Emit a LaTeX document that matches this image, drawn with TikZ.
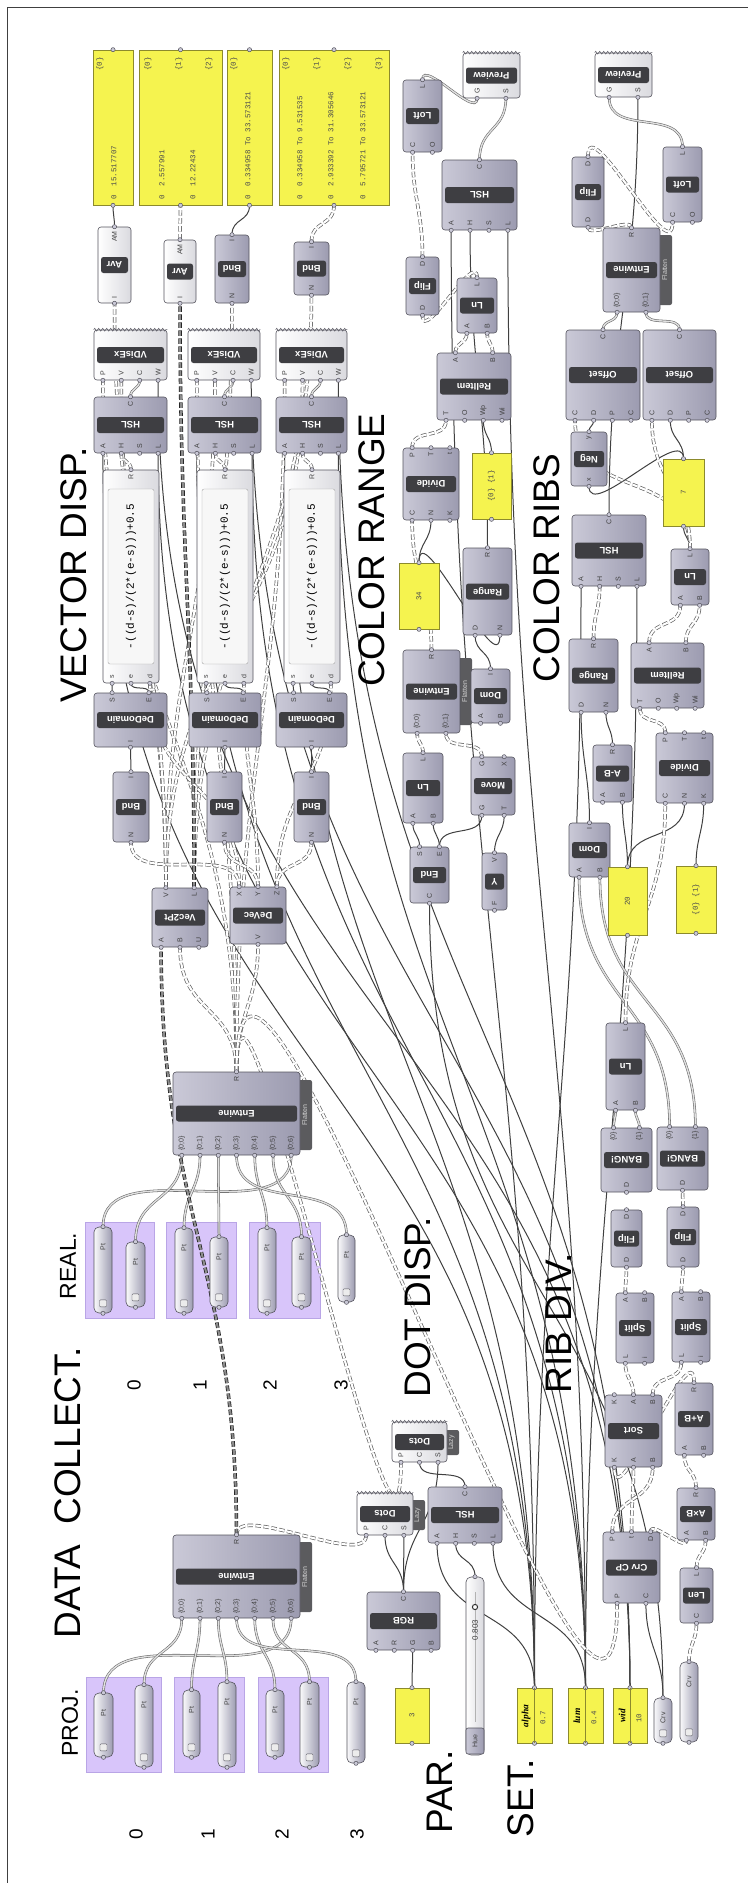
\documentclass[tikz,border=0pt]{standalone}
\usepackage{fontspec}
\setmainfont{Liberation Sans}
\setmonofont{Liberation Mono}
\newfontfamily\ghserif{Liberation Serif}
\usetikzlibrary{arrows.meta,positioning,calc,backgrounds,decorations.pathmorphing}
\definecolor{GhTop}{HTML}{CAC9D7}
\definecolor{GhBot}{HTML}{9C9BB0}
\definecolor{GhEdge}{HTML}{55545E}
\definecolor{GhDark}{HTML}{3E3E42}
\definecolor{GhPale}{HTML}{DADADF}
\definecolor{GhYellow}{HTML}{F5F34F}
\definecolor{GhYEdge}{HTML}{8C8A2C}
\definecolor{GhGroup}{HTML}{D8C5FA}
\definecolor{GhGEdge}{HTML}{B9A5E6}

% ports on one side of a component
\newcommand{\ghports}[6]{%
  \gdef\ghn{0}%
  \foreach \q in {#3}{\xdef\ghn{\the\numexpr\ghn+1\relax}}%
  \foreach \q [count=\k] in {#3}{%
    \coordinate (#1-#4\k) at ($(#1.#2 west)!{(2*\k-1)/(2*\ghn)}!(#1.#2 east)$);
    \node[ghlet,anchor=#6] at ($(#1-#4\k)+(0,#5)$) {\q};
    \filldraw[ghport] (#1-#4\k) circle (2.1pt);}}
% component: [style]{name}{left}{top}{width}{height}{title}{inputs}{outputs}
\newcommand{\ghc}[9][ghbody]{%
  \node[#1,minimum width=#5pt,minimum height=#6pt] (#2) at (#3+#5/2,#4+#6/2) {};
  \def\ghtmp{#7}\ifx\ghtmp\empty\else
    \node[ghtitle,minimum width=#5pt-6pt] at (#2.center) {#7};\fi
  \ghports{#2}{south}{#8}{i}{-4}{west}%
  \def\ghtmp{#9}\ifx\ghtmp\empty\else\ghports{#2}{north}{#9}{o}{4}{east}\fi}
% yellow panel
\newcommand{\ghpanel}[5]{%
  \node[ghyel,minimum width=#4pt,minimum height=#5pt] (#1) at (#2+#4/2,#3+#5/2) {};
  \coordinate (#1-i1) at (#1.south); \coordinate (#1-o1) at (#1.north);
  \filldraw[ghport] (#1-i1) circle (2.1pt) (#1-o1) circle (2.1pt);}
% parameter capsule
\newcommand{\ghpt}[6]{%
  \node[ghparam,minimum width=#4pt,minimum height=#5pt] (#1) at (#2+#4/2,#3+#5/2) {};
  \node[ghlet] at ($(#1.north)+(0,20)$) {#6};
  \node[ghicon] at ($(#1.south)+(0,-10)$) {};
  \coordinate (#1-i1) at (#1.south); \coordinate (#1-o1) at (#1.north);
  \filldraw[ghport] (#1-i1) circle (2.1pt) (#1-o1) circle (2.1pt);}
% dark side tab
\newcommand{\ghtab}[4]{%
  \fill[GhDark!85,rounded corners=2pt] (#1-6,#2) rectangle (#1+12,#3);
  \node[rotate=90,font=\fontsize{7}{7}\selectfont,text=white!65!gray] at (#1+4.5,{(#2+#3)/2}) {#4};}
% wire from an output up to an input
\newcommand{\ghwire}[3]{%
  \draw[#1] let \p1=(#2),\p2=(#3),\n1={max(6pt,0.42*abs(\y2-\y1)+0.25*abs(\x2-\x1))} in
    (\p1) .. controls +(0pt,\n1) and +(0pt,-\n1) .. (\p2);}

\begin{document}
\begin{tikzpicture}[x=1pt,y=-1pt,
  ghbody/.style={draw=GhEdge,line width=0.6pt,rounded corners=3pt,left color=GhTop,right color=GhBot,inner sep=0pt},
  ghpale/.style={ghbody,left color=white,right color=GhPale},
  ghparam/.style={ghbody,rounded corners=5pt,left color=white!90!GhTop,right color=GhBot},
  ghtitle/.style={fill=GhDark,rounded corners=2.5pt,text=white,font=\bfseries\fontsize{9.5}{10}\selectfont,rotate=180,minimum height=16pt,inner sep=1pt},
  ghlet/.style={rotate=90,font=\fontsize{7}{7}\selectfont,text=black!75,inner sep=0.5pt},
  ghport/.style={fill=GhTop,draw=GhEdge,line width=0.5pt},
  ghicon/.style={draw=GhEdge,fill=white!85!gray,minimum size=7pt,inner sep=0pt,rounded corners=1pt},
  ghyel/.style={draw=GhYEdge,fill=GhYellow,line width=0.6pt,inner sep=0pt},
  ghgroup/.style={fill=GhGroup,draw=GhGEdge,line width=0.6pt},
  ptxt/.style={rotate=90,font=\ttfamily\fontsize{7.5}{8}\selectfont,text=black!70,inner sep=0pt},
  exprbox/.style={draw=black!35,fill=white!94!gray,rounded corners=2pt,rotate=90,minimum width=175pt,minimum height=46pt,font=\ttfamily\fontsize{11}{11}\selectfont,inner sep=1pt},
  zig/.style={draw=GhEdge,line width=0.5pt,decorate,decoration={zigzag,segment length=4pt,amplitude=1.4pt}},
  sect/.style={rotate=90,font=\fontsize{37}{37}\selectfont,inner sep=0pt},
  subsect/.style={rotate=90,font=\fontsize{23}{23}\selectfont,inner sep=0pt},
  digit/.style={rotate=90,font=\fontsize{19}{19}\selectfont,inner sep=0pt},
  one/.style={draw=black!75,line width=1pt},
  lst/.style={draw=black!60,line width=0.55pt,double=black!12,double distance=1.4pt},
  tree/.style={draw=black!62,line width=0.7pt,double=white,double distance=2.1pt,dash pattern=on 5.5pt off 2.5pt},
  dtree/.style={tree,draw=black!90,double=black!45}]
\useasboundingbox (0,0) rectangle (748,1883);
\draw[black!75,line width=0.7pt] (7,1883) -- (7,7) -- (748,7);

% section titles
\node[sect] (tVec) at (74,575) {VECTOR DISP.};
\node[sect] (tRange) at (372,550) {COLOR RANGE};
\node[sect] (tRibs) at (547,568) {COLOR RIBS};
\node[sect] (tData) at (68,1493) {DATA\ \ COLLECT.};
\node[sect] (tDot) at (418,1307) {DOT DISP.};
\node[sect] (tRib) at (559,1323) {RIB DIV.};
\node[sect] (tPar) at (440,1792) {PAR.};
\node[sect] (tSet) at (521,1798) {SET.};
\node[subsect] (tReal) at (68,1266) {REAL.};
\node[subsect] (tProj) at (70,1723) {PROJ.};
\foreach \d/\xx in {0/134,1/200,2/270,3/341} {\node[digit] (dR\d) at (\xx,1385) {\d};}
\foreach \d/\xx in {0/136,1/208,2/282,3/357} {\node[digit] (dP\d) at (\xx,1834) {\d};}

% read-out panels
\ghpanel{PA}{93}{50}{40}{155}
\ghpanel{PB}{139}{50}{83}{155}
\ghpanel{PC}{227}{50}{45}{155}
\ghpanel{PD}{279}{50}{110}{155}
\foreach \xx/\br in {100/0,148/0,179/1,209/2,234/0,286/0,317/1,348/2,379/3} {\node[ptxt,anchor=east] at (\xx,57) {\{\br\}};}
\node[ptxt,anchor=west] at (114,200) {0\ \ 15.517707};
\node[ptxt,anchor=west] at (162,200) {0\ \ 2.557991};
\node[ptxt,anchor=west] at (193,200) {0\ \ 12.22434};
\node[ptxt,anchor=west] at (248,200) {0\ \ 0.334958 To 33.573121};
\node[ptxt,anchor=west] at (300,200) {0\ \ 0.334958 To 9.531535};
\node[ptxt,anchor=west] at (331,200) {0\ \ 2.933392 To 31.305646};
\node[ptxt,anchor=west] at (363,200) {0\ \ 5.795721 To 33.573121};

% vector display
\ghc[ghpale]{AvrA}{98}{227}{33}{76}{Avr}{I}{AM}
\ghc[ghpale]{AvrB}{164}{240}{32}{63}{Avr}{I}{AM}
\ghc{BndA}{215}{235}{34}{68}{Bnd}{N}{I}
\ghc{BndB}{294}{242}{35}{53}{Bnd}{N}{I}
\ghc[ghpale]{VDa}{94}{330}{73}{50}{VDisEx}{P,V,C,W}{}
\ghc[ghpale]{VDb}{188}{330}{72}{50}{VDisEx}{P,V,C,W}{}
\ghc[ghpale]{VDc}{276}{330}{71}{50}{VDisEx}{P,V,C,W}{}
\ghc{HSLa}{94}{397}{73}{56}{HSL}{A,H,S,L}{C}
\ghc{HSLb}{188}{397}{73}{56}{HSL}{A,H,S,L}{C}
\ghc{HSLc}{276}{397}{71}{56}{HSL}{A,H,S,L}{C}
\ghc[ghpale]{ExA}{103}{470}{56}{213}{}{s,e,d}{R}
\ghc[ghpale]{ExB}{197}{470}{56}{213}{}{s,e,d}{R}
\ghc[ghpale]{ExC}{284}{470}{56}{213}{}{s,e,d}{R}
\foreach \cn in {ExA,ExB,ExC} {\node[exprbox] at (\cn.center) {-((d-s)/(2*(e-s)))+0.5};}
\ghc{DDa}{94}{693}{73}{54}{DeDomain}{I}{S,E}
\ghc{DDb}{189}{693}{72}{54}{DeDomain}{I}{S,E}
\ghc{DDc}{276}{693}{71}{54}{DeDomain}{I}{S,E}
\ghc{BnA}{113}{772}{36}{70}{Bnd}{N}{I}
\ghc{BnB}{207}{772}{35}{70}{Bnd}{N}{I}
\ghc{BnC}{294}{772}{35}{70}{Bnd}{N}{I}
\ghc{VecPt}{152}{888}{56}{59}{Vec2Pt}{A,B,U}{V,L}
\ghc{DeVec}{230}{887}{56}{57}{DeVec}{V}{X,Y,Z}
\ghtab{300}{1080}{1150}{Flatten}
\ghc{EntUp}{173}{1072}{127}{83}{Entwine}{\{0;0\},\{0;1\},\{0;2\},\{0;3\},\{0;4\},\{0;5\},\{0;6\}}{R}
\ghtab{300}{1542}{1612}{Flatten}
\ghc{EntLo}{173}{1535}{127}{83}{Entwine}{\{0;0\},\{0;1\},\{0;2\},\{0;3\},\{0;4\},\{0;5\},\{0;6\}}{R}

% points
\ghpt{Ra}{94}{1227}{18}{86}{Pt}
\ghpt{Rb}{126}{1242}{19}{65}{Pt}
\ghpt{Rc}{175}{1228}{18}{85}{Pt}
\ghpt{Rd}{210}{1237}{18}{70}{Pt}
\ghpt{Re}{258}{1228}{18}{85}{Pt}
\ghpt{Rf}{292}{1237}{19}{70}{Pt}
\ghpt{Rg}{338}{1235}{17}{67}{Pt}
\ghpt{Qa}{94}{1693}{19}{64}{Pt}
\ghpt{Qb}{135}{1685}{18}{82}{Pt}
\ghpt{Qc}{183}{1690}{17}{67}{Pt}
\ghpt{Qd}{218}{1682}{18}{85}{Pt}
\ghpt{Qe}{266}{1690}{18}{67}{Pt}
\ghpt{Qf}{300}{1682}{19}{85}{Pt}
\ghpt{Qg}{347}{1682}{18}{81}{Pt}

% color range
\ghc[ghpale]{PrevL}{463}{53}{57}{45}{Preview}{G,S}{}
\ghc{LoftL}{403}{80}{39}{72}{Loft}{C,O}{L}
\ghc{HSLcr}{442}{160}{75}{70}{HSL}{A,H,S,L}{C}
\ghc{FlipL}{406}{257}{33}{58}{Flip}{D}{D}
\ghc{LnCRa}{457}{278}{40}{55}{Ln}{A,B}{L}
\ghc{RelCR}{437}{353}{74}{67}{RelItem}{T,O,Wp,Wi}{A,B}
\ghc{DivCR}{403}{448}{56}{72}{Divide}{C,N,K}{P,T,t}
\ghpanel{PanCRa}{472}{453}{39}{66}
\ghpanel{PanCRb}{399}{563}{40}{66}
\ghc{RngCR}{463}{548}{49}{87}{Range}{D,N}{R}
\ghtab{460}{658}{725}{Flatten}
\ghc{EntCR}{403}{650}{57}{83}{Entwine}{\{0;0\},\{0;1\}}{R}
\ghc{DomCR}{471}{669}{39}{54}{Dom}{A,B}{I}
\ghc{LnCRb}{403}{753}{40}{70}{Ln}{A,B}{L}
\ghc{Move}{471}{757}{44}{58}{Move}{G,T}{G,X}
\ghc{End}{410}{847}{39}{56}{End}{C}{S,E}
\ghc{UnitY}{482}{853}{25}{57}{Y}{F}{V}

% color ribs
\ghc[ghpale]{PrevR}{595}{53}{57}{44}{Preview}{G,S}{}
\ghc{LoftR}{663}{147}{39}{75}{Loft}{C,O}{L}
\ghc{FlipR}{572}{157}{32}{70}{Flip}{D}{D}
\ghtab{660}{235}{305}{Flatten}
\ghc{EntRB}{603}{228}{57}{84}{Entwine}{\{0;0\},\{0;1\}}{R}
\ghc{OffL}{566}{330}{74}{90}{Offset}{C,D,P,C}{C}
\ghc{OffR}{643}{330}{73}{90}{Offset}{C,D,P,C}{C}
\ghc{Neg}{571}{432}{36}{54}{Neg}{x}{y}
\ghpanel{PanSeven}{663}{459}{41}{67}
\ghc{HSLrb}{572}{515}{74}{71}{HSL}{A,H,S,L}{C}
\ghc{LnRBa}{671}{549}{38}{56}{Ln}{A,B}{L}
\ghc{RngRB}{569}{639}{49}{73}{Range}{D,N}{R}
\ghc{RelRB}{631}{643}{73}{65}{RelItem}{T,O,Wp,Wi}{A,B}
\ghc{AmB}{593}{745}{39}{57}{A-B}{A,B}{R}
\ghc{DivRB}{656}{733}{57}{70}{Divide}{C,N,K}{P,T,t}
\ghc{DomRB}{569}{823}{41}{54}{Dom}{A,B}{I}
\ghpanel{PanTwenty}{608}{867}{39}{68}
\ghpanel{PanRBb}{676}{866}{40}{67}
\ghc{LnRBb}{606}{1023}{39}{87}{Ln}{A,B}{L}
\ghc{BangL}{601}{1128}{51}{64}{BANG!}{D}{\{0\},\{1\}}
\ghc{BangR}{657}{1127}{51}{63}{BANG!}{D}{\{0\},\{1\}}
\ghc{FlipA}{611}{1210}{31}{57}{Flip}{D}{D}
\ghc{FlipB}{667}{1207}{32}{60}{Flip}{D}{D}
\ghc{SplA}{616}{1293}{38}{70}{Split}{L,i}{A,B}
\ghc{SplB}{672}{1292}{38}{70}{Split}{L,i}{A,B}
\ghc{Sort}{605}{1395}{57}{72}{Sort}{K,A,B}{K,A,B}
\ghc{ApB}{675}{1383}{38}{72}{A+B}{A,B}{R}
\ghc{AxB}{677}{1488}{38}{52}{A×B}{A,B}{R}
\ghc{CrvCP}{603}{1532}{57}{71}{Crv CP}{P,C}{P,t,D}
\ghc{Len}{680}{1568}{33}{55}{Len}{C}{L}

% dot display
\ghtab{447}{1430}{1455}{Lazy}
\ghc[ghpale]{DotsU}{392}{1422}{55}{40}{Dots}{P,C,S}{}
\ghtab{413}{1500}{1530}{Lazy}
\ghc[ghpale]{DotsL}{357}{1493}{56}{42}{Dots}{P,C,S}{}
\ghc{HSLlo}{428}{1487}{74}{56}{HSL}{A,H,S,L}{C}
\ghc{RGB}{367}{1592}{73}{58}{RGB}{A,R,G,B}{C}
\foreach \cn in {VDa,VDb,VDc,PrevL,PrevR,DotsU,DotsL} {\draw[zig] (\cn.north west) -- (\cn.north east);}

% parameters and settings
\ghpanel{three}{395}{1688}{34}{55}
\node[ghparam,left color=white,right color=GhPale,minimum width=18pt,minimum height=178pt] (hue) at (475,1666) {};
\draw[black!30] (475,1592) -- (475,1722);
\node[ghlet,font=\fontsize{8}{8}\selectfont] at (475,1630) {0.803};
\draw[black!80,line width=1pt,fill=white] (475,1607) circle (2.6pt);
\node[ghbody,rounded corners=2pt,minimum width=18pt,minimum height=26pt] (huebox) at (475,1741) {};
\node[ghlet] at (huebox) {Hue};
\coordinate (hue-o1) at (hue.north); \filldraw[ghport] (hue-o1) circle (2.1pt);
\ghpanel{alpha}{517}{1688}{35}{55}
\ghpanel{lum}{568}{1688}{35}{55}
\ghpanel{wid}{613}{1688}{34}{55}
\foreach \cn in {alpha,lum,wid} {\draw[GhYEdge,line width=0.6pt] (\cn.north) -- (\cn.south);}
\foreach \xx/\tx in {526/alpha,577/lum,622/wid} {\node[ptxt,text=black,font=\ghserif\bfseries\itshape\fontsize{9.5}{10}\selectfont] at (\xx,1716) {\tx};}
\foreach \xx/\tx in {543/0.7,594/0.4,639/10} {\node[ptxt] at (\xx,1718) {\tx};}
\ghpt{CrvA}{654}{1698}{18}{45}{Crv}
\ghpt{CrvB}{680}{1662}{18}{80}{Crv}
\foreach \cn/\tx in {three/3,PanCRa/\{0\}\ \{1\},PanCRb/34,PanSeven/7,PanTwenty/20,PanRBb/\{0\}\ \{1\}} {\node[ptxt] at (\cn.center) {\tx};}

\begin{scope}[on background layer]
  \foreach \ga/\gb in {85/154,166/236,249/320} {\draw[ghgroup] (\ga,1222) rectangle (\gb,1318);}
  \foreach \ga/\gb in {86/161,174/244,258/328} {\draw[ghgroup] (\ga,1677) rectangle (\gb,1772);}
  % single items
  \foreach \a/\b in {AvrA-o1/PA-i1,BndA-o1/PC-i1,
    DDa-o1/ExA-i1,DDa-o2/ExA-i2,DDb-o1/ExB-i1,DDb-o2/ExB-i2,DDc-o1/ExC-i1,DDc-o2/ExC-i2,
    BnA-o1/DDa-i1,BnB-o1/DDb-i1,BnC-o1/DDc-i1,
    alpha-o1/HSLa-i1,alpha-o1/HSLb-i1,alpha-o1/HSLc-i1,
    lum-o1/HSLa-i4,lum-o1/HSLb-i4,lum-o1/HSLc-i4,
    wid-o1/VDa-i4,wid-o1/VDb-i4,wid-o1/VDc-i4,
    alpha-o1/HSLcr-i1,lum-o1/HSLcr-i4,alpha-o1/HSLrb-i1,lum-o1/HSLrb-i4,
    alpha-o1/HSLlo-i1,hue-o1/HSLlo-i2,lum-o1/HSLlo-i4,
    three-o1/RGB-i3,RGB-o1/DotsL-i2,RGB-o1/DotsL-i3,RGB-o1/DotsU-i3,HSLlo-o1/DotsU-i2,
    CrvA-o1/CrvCP-i2,CrvA-o1/End-i1,
    RngCR-o1/HSLcr-i2,PanCRb-o1/DivCR-i2,PanCRb-o1/RngCR-i2,PanCRa-o1/RelCR-i3,DomCR-o1/RngCR-i1,
    End-o1/LnCRb-i1,End-o2/LnCRb-i2,End-o2/Move-i1,UnitY-o1/Move-i2,
    PanTwenty-o1/DivRB-i2,PanTwenty-o1/AmB-i2,PanRBb-o1/DivRB-i3,DomRB-o1/RngRB-i1,AmB-o1/RngRB-i2,
    LnRBa-o1/PanSeven-i1,PanSeven-o1/Neg-i1,PanSeven-o1/OffR-i2,Neg-o1/OffL-i2,HSLrb-o1/PrevR-i2}
    {\ghwire{one}{\a}{\b}}
  % lists
  \foreach \a/\b in {HSLa-o1/VDa-i3,HSLb-o1/VDb-i3,HSLc-o1/VDc-i3,
    LoftL-o1/PrevL-i1,HSLcr-o1/PrevL-i2,LoftR-o1/PrevR-i1,
    OffL-o1/EntRB-i1,OffR-o1/EntRB-i2,
    BangL-o1/LnRBb-i1,BangL-o2/LnRBb-i2,BangR-o1/DomRB-i1,BangR-o2/DomRB-i2,
    Ra-o1/EntUp-i7,Rb-o1/EntUp-i1,Rc-o1/EntUp-i2,Rd-o1/EntUp-i3,Re-o1/EntUp-i5,Rf-o1/EntUp-i6,Rg-o1/EntUp-i4,
    Qa-o1/EntLo-i7,Qb-o1/EntLo-i1,Qc-o1/EntLo-i2,Qd-o1/EntLo-i3,Qe-o1/EntLo-i5,Qf-o1/EntLo-i6,Qg-o1/EntLo-i4}
    {\ghwire{lst}{\a}{\b}}
  % trees
  \foreach \a/\b in {AvrB-o1/PB-i1,BndB-o1/PD-i1,
    ExA-o1/HSLa-i2,ExB-o1/HSLb-i2,ExC-o1/HSLc-i2,
    EntUp-o1/VDa-i1,EntUp-o1/VDb-i1,EntUp-o1/VDc-i1,
    VecPt-o1/VDa-i2,VecPt-o1/VDb-i2,VecPt-o1/VDc-i2,
    VecPt-o1/AvrA-i1,VecPt-o2/BndA-i1,VecPt-o2/BndB-i1,
    DeVec-o1/ExA-i3,DeVec-o2/ExB-i3,DeVec-o3/ExC-i3,
    DeVec-o1/BnA-i1,DeVec-o2/BnB-i1,DeVec-o3/BnC-i1,
    EntUp-o1/VecPt-i2,EntUp-o1/DeVec-i1,
    EntLo-o1/DotsL-i1,EntUp-o1/DotsU-i1,EntUp-o1/CrvCP-i1,
    CrvB-o1/Len-i1,Len-o1/AxB-i2,CrvCP-o3/AxB-i1,AxB-o1/ApB-i1,ApB-o1/Sort-i1,CrvCP-o2/Sort-i2,CrvCP-o1/Sort-i3,
    Sort-o2/SplA-i1,Sort-o3/SplB-i1,SplA-o1/FlipA-i1,SplB-o1/FlipB-i1,FlipA-o1/BangL-i1,FlipB-o1/BangR-i1,
    LnRBb-o1/DivRB-i1,DivRB-o1/RelRB-i1,RngRB-o1/HSLrb-i2,RelRB-o1/LnRBa-i1,RelRB-o2/LnRBa-i2,
    LnRBa-o1/OffL-i1,LnRBa-o1/OffR-i1,EntRB-o1/FlipR-i1,FlipR-o1/LoftR-i1,
    FlipL-o1/LoftL-i1,LnCRa-o1/FlipL-i1,RelCR-o1/LnCRa-i1,RelCR-o2/LnCRa-i2,DivCR-o1/RelCR-i1,
    EntCR-o1/DivCR-i1,LnCRb-o1/EntCR-i1,Move-o1/EntCR-i2}
    {\ghwire{tree}{\a}{\b}}
  \foreach \a/\b in {EntLo-o1/VecPt-i1,VecPt-o2/AvrB-i1} {\ghwire{dtree}{\a}{\b}}
\end{scope}
\end{tikzpicture}
\end{document}
